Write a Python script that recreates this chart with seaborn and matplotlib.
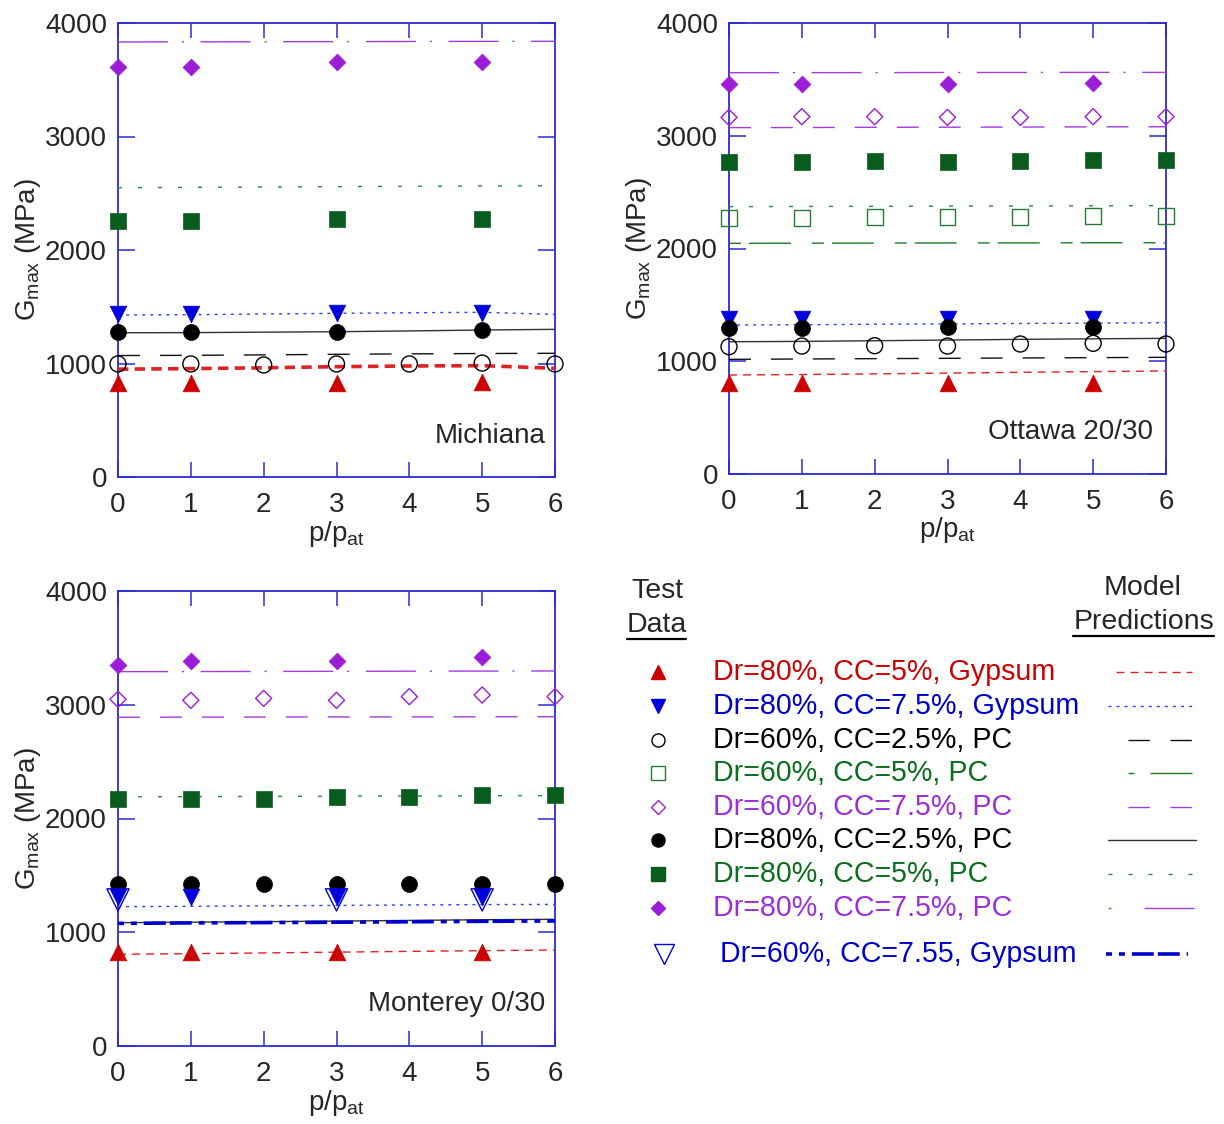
import matplotlib
matplotlib.use("Agg")
import matplotlib.pyplot as plt
import seaborn as sns

sns.set_style("white")
plt.rcParams['font.family'] = ['Liberation Sans', 'DejaVu Sans']
plt.rcParams['mathtext.fontset'] = 'custom'
plt.rcParams['mathtext.rm'] = 'Liberation Sans'
plt.rcParams['mathtext.it'] = 'Liberation Sans:italic'
plt.rcParams['lines.scale_dashes'] = False

# ---------------------------------------------------------------- data
P_ALL = [0, 1, 2, 3, 4, 5, 6]
P_SUB = [0, 1, 3, 5]

# Michiana sand: measured G_max (MPa)
mi_g80_5 = [826, 826, 830, 840]
mi_g80_75 = [1439, 1439, 1442, 1445]
mi_p60_25 = [996, 996, 987, 996, 996, 1004, 996]
mi_p80_25 = [1275, 1275, 1280, 1295]
mi_p80_5 = [2258, 2252, 2273, 2273]
mi_p80_75 = [3615, 3615, 3656, 3656]
# Michiana sand: model predictions at p/p_at = 0..6
mi_m_g80_5 = [950, 955, 962, 972, 978, 981, 958]
mi_m_g80_75 = [1427, 1430, 1436, 1442, 1447, 1451, 1433]
mi_m_p60_25 = [1070, 1072, 1076, 1081, 1085, 1088, 1090]
mi_m_p80_25 = [1271, 1272, 1276, 1280, 1287, 1295, 1301]
mi_m_p80_5 = [2549, 2552, 2555, 2558, 2561, 2564, 2566]
mi_m_p80_75 = [3833, 3834, 3835, 3836, 3837, 3838, 3839]

# Ottawa 20/30 sand: measured
ot_g80_5 = [804, 804, 804, 807]
ot_g80_75 = [1373, 1373, 1373, 1373]
ot_p60_25 = [1129, 1135, 1138, 1135, 1153, 1159, 1153]
ot_p60_5 = [2268, 2268, 2277, 2277, 2282, 2291, 2291]
ot_p60_75 = [3163, 3169, 3169, 3163, 3163, 3169, 3169]
ot_p80_25 = [1298, 1298, 1307, 1307]
ot_p80_5 = [2770, 2767, 2779, 2770, 2779, 2785, 2785]
ot_p80_75 = [3456, 3456, 3456, 3465]
# Ottawa 20/30 sand: model predictions
ot_m_g80_5 = [878, 882, 888, 895, 902, 908, 914]
ot_m_g80_75 = [1321, 1324, 1328, 1331, 1335, 1338, 1342]
ot_m_p60_25 = [1017, 1020, 1023, 1026, 1029, 1032, 1035]
ot_m_p60_5 = [2046, 2047, 2048, 2049, 2050, 2051, 2051]
ot_m_p60_75 = [3072, 3073, 3075, 3076, 3077, 3079, 3080]
ot_m_p80_25 = [1173, 1176, 1182, 1188, 1194, 1199, 1203]
ot_m_p80_5 = [2371, 2373, 2374, 2376, 2377, 2379, 2380]
ot_m_p80_75 = [3559, 3560, 3560, 3561, 3561, 3562, 3562]

# Monterey 0/30 sand: measured
mo_g80_5 = [826, 826, 829, 824]
mo_g80_75 = [1313, 1313, 1313, 1313]
mo_g60_755_x = [0, 3, 5]
mo_g60_755 = [1284, 1284, 1284]
mo_p60_75 = [3048, 3039, 3056, 3039, 3071, 3086, 3071]
mo_p80_25 = [1421, 1421, 1421, 1421, 1421, 1421, 1424]
mo_p80_5 = [2169, 2169, 2169, 2186, 2186, 2207, 2207]
mo_p80_75 = [3349, 3388, 3388, 3417]
# Monterey 0/30 sand: model predictions
mo_m_g80_5 = [806, 812, 818, 825, 832, 838, 844]
mo_m_g80_75 = [1225, 1228, 1232, 1236, 1240, 1243, 1245]
mo_m_g60_755 = [1078, 1082, 1085, 1088, 1092, 1096, 1099]
mo_m_p60_75 = [2890, 2891, 2892, 2893, 2893, 2894, 2895]
mo_m_p80_25 = [1084, 1088, 1093, 1098, 1104, 1110, 1114]
mo_m_p80_5 = [2190, 2192, 2194, 2196, 2198, 2200, 2201]
mo_m_p80_75 = [3291, 3292, 3293, 3294, 3295, 3296, 3297]

LEGEND_LABELS = [
    "Dr=80%, CC=5%, Gypsum",
    "Dr=80%, CC=7.5%, Gypsum",
    "Dr=60%, CC=2.5%, PC",
    "Dr=60%, CC=5%, PC",
    "Dr=60%, CC=7.5%, PC",
    "Dr=80%, CC=2.5%, PC",
    "Dr=80%, CC=5%, PC",
    "Dr=80%, CC=7.5%, PC",
    "Dr=60%, CC=7.55, Gypsum",
]
SERIES_KEYS = ["g80_5", "g80_75", "p60_25", "p60_5", "p60_75",
               "p80_25", "p80_5", "p80_75", "g60_755"]

# ---------------------------------------------------------------- styles
RED = "#cc0000"
BLUE = "#0000dd"
BLACK = "#000000"
GREEN = "#0a5c1e"
GREEN_OPEN = "#257a35"
PURPLE = "#9b1dd6"
AXBLUE = "#2a2ad6"

STYLE = {
    "g80_5":   dict(m="^", c=RED, fill=True, ms=12, lc="#dd2222", ls=(0, (5.8, 4.3)), lw=1.0, tc="#cc0000"),
    "g80_75":  dict(m="v", c=BLUE, fill=True, ms=12, lc="#3344ee", ls=(0, (2.2, 3.6)), lw=1.0, tc="#0000cc"),
    "p60_25":  dict(m="o", c=BLACK, fill=False, ms=11.5, lc="#111111", ls=(0, (15.8, 14.4)), lw=1.0, tc=BLACK),
    "p60_5":   dict(m="s", c=GREEN_OPEN, fill=False, ms=11.5, lc="#1f7a2e", ls=(0, (8.6, 5.8, 30.2, 15.1)), lw=1.0, tc="#0a6e1e"),
    "p60_75":  dict(m="D", c=PURPLE, fill=False, ms=8.2, lc="#a33be0", ls=(0, (15.8, 14.4)), lw=1.0, tc="#9b30d9"),
    "p80_25":  dict(m="o", c=BLACK, fill=True, ms=11.5, lc="#333333", ls="-", lw=1.0, tc=BLACK),
    "p80_5":   dict(m="s", c=GREEN, fill=True, ms=12, lc="#2a8a3a", ls=(0, (2.9, 11.5)), lw=1.0, tc="#0a6e1e"),
    "p80_75":  dict(m="D", c=PURPLE, fill=True, ms=8.6, lc="#a33be0", ls=(0, (36, 10, 1.5, 12)), lw=1.0, tc="#9b30d9"),
    "g60_755": dict(m="v", c=BLUE, fill=False, ms=16, lc="#0000cc", ls=(0, (4.3, 5, 4.3, 5, 15.8, 2.9, 15.8, 5)), lw=2.6, tc="#0000cc"),
}

# key line samples: horizontal extent and dash phase of each sample
LEGEND_LINE_SPAN = {
    "g80_5": (1116, 1192), "g80_75": (1108, 1196), "p60_25": (1128, 1192),
    "p60_5": (1128, 1192), "p60_75": (1128, 1192), "p80_25": (1108, 1196),
    "p80_5": (1108, 1196), "p80_75": (1108, 1196), "g60_755": (1106, 1188),
}
LEGEND_LINE_STYLE = {
    "p60_25": (0, (15.4, 14.8)), "p60_75": (0, (15.4, 14.8)),
    "p60_5": (0, (4.3, 11.5, 31, 10)), "p80_75": (0, (2, 24, 36, 10)),
}

W, H = 1224, 1124
fig = plt.figure(figsize=(W / 100, H / 100), dpi=100)


def px_rect(l, t, r, b):
    return [l / W, 1 - b / H, (r - l) / W, (b - t) / H]


def draw_points(ax, key, xs, ys):
    st = STYLE[key]
    kw = dict(x=xs, y=ys, ax=ax, marker=st["m"], s=st["ms"] ** 2, color=st["c"],
              edgecolor=st["c"], clip_on=False, zorder=4, legend=False)
    if st["fill"]:
        kw["linewidth"] = 0.5
    else:
        kw["facecolor"] = "none"
        kw["linewidth"] = 1.0
    sns.scatterplot(**kw)


def draw_model(ax, key, ys, lw=None, ls=None):
    st = STYLE[key]
    sns.lineplot(x=P_ALL, y=ys, ax=ax, color=st["lc"], linestyle=ls or st["ls"],
                 linewidth=lw or st["lw"], zorder=3, legend=False)


def style_axes(ax, name, name_pos):
    ax.set_xlim(0, 6)
    ax.set_ylim(0, 4000)
    ax.set_xticks(P_ALL)
    ax.set_yticks([0, 1000, 2000, 3000, 4000])
    for sp in ax.spines.values():
        sp.set_visible(True)
        sp.set_color(AXBLUE)
        sp.set_linewidth(1.3)
    ax.tick_params(axis="x", direction="in", length=11, width=1.1, color=AXBLUE,
                   top=True, bottom=True, labelsize=20, pad=11)
    ax.tick_params(axis="y", direction="in", length=12, width=1.1, color=AXBLUE,
                   left=True, right=True, labelsize=20, pad=8)
    ax.set_xlabel(r"p/p$_{\mathregular{at}}$", fontsize=20)
    ax.set_ylabel(r"G$_{\mathregular{max}}$ (MPa)", fontsize=20)
    ax.xaxis.set_label_coords(0.5, -0.092)
    ax.yaxis.set_label_coords(-0.172, 0.5)
    ax.text(name_pos[0], name_pos[1], name, transform=ax.transAxes,
            ha="right", va="center", fontsize=20)
    ax.grid(False)


# ---------------------------------------------------------------- Michiana
ax1 = fig.add_axes(px_rect(118, 23, 555, 477))
draw_model(ax1, "g80_5", mi_m_g80_5, lw=2.6, ls=(0, (7.5, 4.5)))
draw_model(ax1, "g80_75", mi_m_g80_75)
draw_model(ax1, "p60_25", mi_m_p60_25)
draw_model(ax1, "p80_25", mi_m_p80_25)
draw_model(ax1, "p80_5", mi_m_p80_5)
draw_model(ax1, "p80_75", mi_m_p80_75)
draw_points(ax1, "g80_5", P_SUB, mi_g80_5)
draw_points(ax1, "g80_75", P_SUB, mi_g80_75)
draw_points(ax1, "p60_25", P_ALL, mi_p60_25)
draw_points(ax1, "p80_25", P_SUB, mi_p80_25)
draw_points(ax1, "p80_5", P_SUB, mi_p80_5)
draw_points(ax1, "p80_75", P_SUB, mi_p80_75)
style_axes(ax1, "Michiana", (0.979, 0.09))

# ---------------------------------------------------------------- Ottawa
ax2 = fig.add_axes(px_rect(729, 23, 1166, 474))
draw_model(ax2, "g80_5", ot_m_g80_5)
draw_model(ax2, "g80_75", ot_m_g80_75)
draw_model(ax2, "p60_25", ot_m_p60_25)
draw_model(ax2, "p60_5", ot_m_p60_5)
draw_model(ax2, "p60_75", ot_m_p60_75)
draw_model(ax2, "p80_25", ot_m_p80_25)
draw_model(ax2, "p80_5", ot_m_p80_5)
draw_model(ax2, "p80_75", ot_m_p80_75)
draw_points(ax2, "g80_5", P_SUB, ot_g80_5)
draw_points(ax2, "g80_75", P_SUB, ot_g80_75)
draw_points(ax2, "p60_25", P_ALL, ot_p60_25)
draw_points(ax2, "p60_5", P_ALL, ot_p60_5)
draw_points(ax2, "p60_75", P_ALL, ot_p60_75)
draw_points(ax2, "p80_25", P_SUB, ot_p80_25)
draw_points(ax2, "p80_5", P_ALL, ot_p80_5)
draw_points(ax2, "p80_75", P_SUB, ot_p80_75)
style_axes(ax2, "Ottawa 20/30", (0.970, 0.093))

# ---------------------------------------------------------------- Monterey
ax3 = fig.add_axes(px_rect(118, 591, 555, 1046))
draw_model(ax3, "g80_5", mo_m_g80_5)
draw_model(ax3, "g80_75", mo_m_g80_75)
draw_model(ax3, "p80_25", mo_m_p80_25)
draw_model(ax3, "g60_755", mo_m_g60_755)
draw_model(ax3, "p60_75", mo_m_p60_75)
draw_model(ax3, "p80_5", mo_m_p80_5)
draw_model(ax3, "p80_75", mo_m_p80_75)
draw_points(ax3, "g80_5", P_SUB, mo_g80_5)
draw_points(ax3, "p80_25", P_ALL, mo_p80_25)
draw_points(ax3, "g80_75", P_SUB, mo_g80_75)
draw_points(ax3, "g60_755", mo_g60_755_x, mo_g60_755)
draw_points(ax3, "p60_75", P_ALL, mo_p60_75)
draw_points(ax3, "p80_5", P_ALL, mo_p80_5)
draw_points(ax3, "p80_75", P_SUB, mo_p80_75)
style_axes(ax3, "Monterey 0/30", (0.977, 0.092))

# ---------------------------------------------------------------- key
axk = fig.add_axes([0, 0, 1, 1], zorder=-1)
axk.set_xlim(0, W)
axk.set_ylim(H, 0)
axk.axis("off")

axk.text(657, 591, "Test", ha="center", va="center", fontsize=20.5)
axk.text(657, 625, "Data", ha="center", va="center", fontsize=20.5)
axk.plot([627, 686], [639, 639], color="black", lw=1.6)
axk.text(1143, 588, "Model", ha="center", va="center", fontsize=20.5)
axk.text(1214, 622, "Predictions", ha="right", va="center", fontsize=20.5)
axk.plot([1073, 1214], [636, 636], color="black", lw=1.6)

row_y = [672, 706, 740, 773, 807, 840, 874, 908, 954]
for key, label, y in zip(SERIES_KEYS, LEGEND_LABELS, row_y):
    st = STYLE[key]
    last = key == "g60_755"
    mx = 664 if last else 658
    ms = 15 if last else st["ms"] * 0.82
    axk.plot([mx], [y], marker=st["m"], ms=ms, color=st["c"],
             mfc=st["c"] if st["fill"] else "none", mec=st["c"],
             mew=1.0, ls="none")
    axk.text(720 if last else 713, y, label, ha="left", va="center",
             fontsize=20.6, color=st["tc"])
    x0, x1 = LEGEND_LINE_SPAN[key]
    axk.plot([x0, x1], [y, y], color=st["lc"],
             ls=LEGEND_LINE_STYLE.get(key, st["ls"]), lw=st["lw"])

fig.savefig("out.png", dpi=100)
